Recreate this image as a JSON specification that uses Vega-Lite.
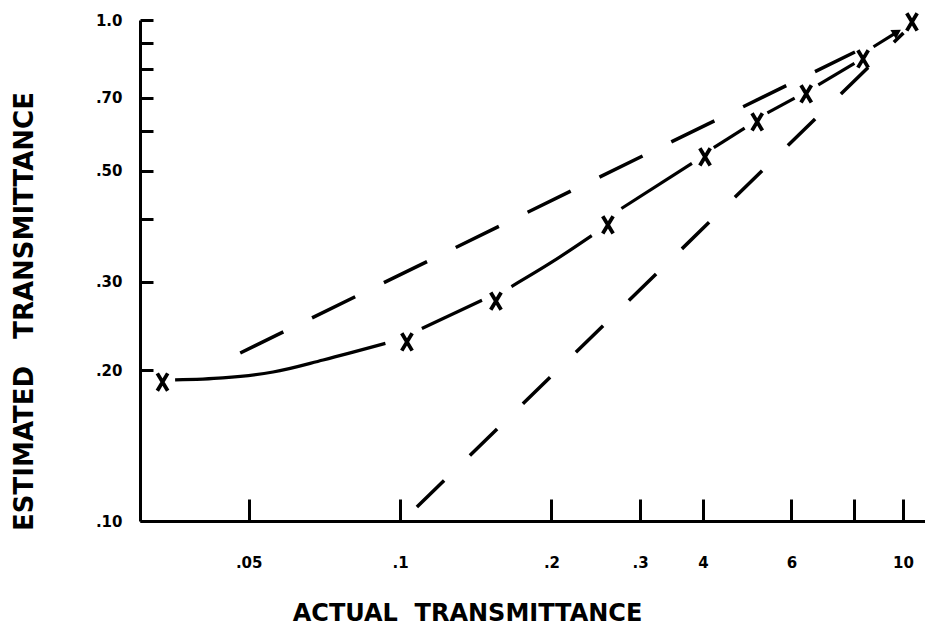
{
  "$schema": "https://vega.github.io/schema/vega-lite/v6.json",
  "width": 785,
  "height": 501,
  "autosize": {"type": "none"},
  "padding": {"left": 140, "top": 20, "right": 0, "bottom": 106},
  "background": "white",
  "config": {"view": {"stroke": null}},
  "datasets": {
    "observed": [
      {"actual": 0.0337, "estimated": 0.1894},
      {"actual": 0.1032, "estimated": 0.2277},
      {"actual": 0.1551, "estimated": 0.2747},
      {"actual": 0.259, "estimated": 0.39},
      {"actual": 0.404, "estimated": 0.533},
      {"actual": 0.513, "estimated": 0.626},
      {"actual": 0.642, "estimated": 0.712},
      {"actual": 0.833, "estimated": 0.836},
      {"actual": 1.042, "estimated": 0.991}
    ],
    "curve": [
      {"seg": 1, "actual": 0.0357, "estimated": 0.1912},
      {"seg": 1, "actual": 0.0444, "estimated": 0.193},
      {"seg": 1, "actual": 0.0559, "estimated": 0.1983},
      {"seg": 1, "actual": 0.0703, "estimated": 0.2096},
      {"seg": 1, "actual": 0.0935, "estimated": 0.2262},
      {"seg": 2, "actual": 0.1105, "estimated": 0.2422},
      {"seg": 2, "actual": 0.1455, "estimated": 0.2758},
      {"seg": 3, "actual": 0.1665, "estimated": 0.2938},
      {"seg": 3, "actual": 0.2006, "estimated": 0.3289},
      {"seg": 3, "actual": 0.2405, "estimated": 0.3712},
      {"seg": 4, "actual": 0.2755, "estimated": 0.4205},
      {"seg": 4, "actual": 0.3805, "estimated": 0.5174},
      {"seg": 5, "actual": 0.4205, "estimated": 0.5563},
      {"seg": 5, "actual": 0.4843, "estimated": 0.6083},
      {"seg": 6, "actual": 0.5375, "estimated": 0.6528},
      {"seg": 6, "actual": 0.6089, "estimated": 0.6983},
      {"seg": 7, "actual": 0.6786, "estimated": 0.7423},
      {"seg": 7, "actual": 0.8006, "estimated": 0.8197},
      {"seg": 8, "actual": 0.8737, "estimated": 0.8843},
      {"seg": 8, "actual": 0.973, "estimated": 0.946}
    ],
    "upper": [
      {"actual": 0.0481, "estimated": 0.2164},
      {"actual": 0.8026, "estimated": 0.8633}
    ],
    "lower": [
      {"actual": 0.108, "estimated": 0.1066},
      {"actual": 1.002, "estimated": 0.942}
    ],
    "arrow": [
      {"actual": 0.973, "estimated": 0.946}
    ]
  },
  "encoding": {
    "x": {
      "field": "actual",
      "type": "quantitative",
      "scale": {"type": "log", "domain": [0.0304, 1.106], "nice": false, "zero": false},
      "axis": {
        "values": [0.05, 0.1, 0.2, 0.3, 0.4, 0.6, 0.8, 1.0],
        "labelExpr": "datum.value == 0.05 ? '.05' : datum.value == 0.1 ? '.1' : datum.value == 0.2 ? '.2' : datum.value == 0.3 ? '.3' : datum.value == 0.4 ? '4' : datum.value == 0.6 ? '6' : datum.value == 1 ? '10' : ''",
        "grid": false,
        "zindex": 1,
        "domainColor": "black",
        "domainWidth": 3,
        "tickColor": "black",
        "tickWidth": 3,
        "tickSize": -22,
        "labelPadding": 56,
        "labelFont": "DejaVu Sans",
        "labelFontWeight": "bold",
        "labelFontSize": 15,
        "labelColor": "black",
        "labelFlush": false,
        "labelOverlap": false,
        "title": "ACTUAL\u00a0\u00a0TRANSMITTANCE",
        "titleFont": "DejaVu Sans",
        "titleFontWeight": "bold",
        "titleFontSize": 24,
        "titleColor": "black",
        "titleX": 327,
        "titleY": 99,
        "titleAlign": "center",
        "titleBaseline": "alphabetic"
      }
    },
    "y": {
      "field": "estimated",
      "type": "quantitative",
      "scale": {"type": "log", "domain": [0.1, 1.0], "nice": false, "zero": false},
      "axis": {
        "values": [0.1, 0.2, 0.3, 0.4, 0.5, 0.6, 0.7, 0.8, 0.9, 1.0],
        "labelExpr": "datum.value == 1 ? '1.0' : datum.value == 0.7 ? '.70' : datum.value == 0.5 ? '.50' : datum.value == 0.3 ? '.30' : datum.value == 0.2 ? '.20' : datum.value == 0.1 ? '.10' : ''",
        "grid": false,
        "zindex": 1,
        "domainColor": "black",
        "domainWidth": 3,
        "tickColor": "black",
        "tickWidth": 3,
        "tickSize": -13,
        "labelPadding": 31,
        "labelFont": "DejaVu Sans",
        "labelFontWeight": "bold",
        "labelFontSize": 15,
        "labelColor": "black",
        "labelFlush": false,
        "labelOverlap": false,
        "title": "ESTIMATED\u00a0\u00a0\u00a0TRANSMITTANCE",
        "titleFont": "DejaVu Sans",
        "titleFontWeight": "bold",
        "titleFontSize": 26,
        "titleColor": "black",
        "titleAngle": -90,
        "titleX": -108,
        "titleY": 291,
        "titleAlign": "center",
        "titleBaseline": "alphabetic"
      }
    }
  },
  "layer": [
    {
      "data": {"name": "curve"},
      "mark": {"type": "line", "interpolate": "monotone", "color": "black", "strokeWidth": 3.2},
      "encoding": {"detail": {"field": "seg", "type": "nominal"}}
    },
    {
      "data": {"name": "observed"},
      "mark": {"type": "point", "shape": "M-0.6,-1L0.6,1M0.6,-1L-0.6,1", "filled": false, "stroke": "black", "opacity": 1, "size": 300, "strokeWidth": 3.8}
    },
    {
      "data": {"name": "upper"},
      "mark": {"type": "line", "color": "black", "strokeWidth": 3.5, "strokeDash": [48, 32]}
    },
    {
      "data": {"name": "lower"},
      "mark": {"type": "line", "color": "black", "strokeWidth": 3.5, "strokeDash": [38, 36]}
    },
    {
      "data": {"name": "arrow"},
      "mark": {"type": "point", "shape": "triangle-right", "filled": true, "color": "black", "opacity": 1, "size": 110, "angle": -32}
    }
  ]
}
